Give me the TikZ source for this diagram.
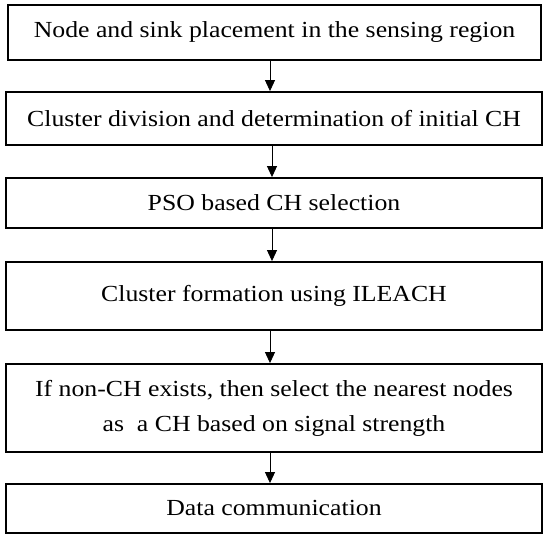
\documentclass[tikz,border=0pt]{standalone}
\usepackage{fontspec}
\setmainfont[FakeStretch=1.12]{Liberation Serif}
\usetikzlibrary{arrows.meta}
\begin{document}
\begin{tikzpicture}[x=1pt,y=1pt,
  stepbox/.style={draw=black, line width=1.8pt, inner sep=0pt, align=center,
    font=\fontsize{23}{35}\selectfont},
  flow/.style={-{Triangle[length=11pt,width=10pt]}, line width=0.9pt}]
\useasboundingbox (0,0) rectangle (550,540);
\node[stepbox, minimum width=533pt, minimum height=55pt] (b1) at (274.5,507.5) {Node and sink placement in the sensing region};
\node[stepbox, minimum width=536pt, minimum height=53pt] (b2) at (274,421.5) {Cluster division and determination of initial CH};
\node[stepbox, minimum width=536pt, minimum height=50pt] (b3) at (274,337) {PSO based CH selection};
\node[stepbox, minimum width=536pt, minimum height=68pt] (b4) at (274,244) {Cluster formation using ILEACH};
\node[stepbox, minimum width=536pt, minimum height=88pt] (b5) at (274,132) {If non-CH exists, then select the nearest nodes\\as\ \ a CH based on signal strength};
\node[stepbox, minimum width=536pt, minimum height=49pt] (b6) at (274,31.5) {Data communication};
\draw[flow] (b1.south -| 270,0) -- (b2.north -| 270,0);
\draw[flow] (b2.south -| 272,0) -- (b3.north -| 272,0);
\draw[flow] (b3.south -| 272,0) -- (b4.north -| 272,0);
\draw[flow] (b4.south -| 270,0) -- (b5.north -| 270,0);
\draw[flow] (b5.south -| 270,0) -- (b6.north -| 270,0);
\end{tikzpicture}
\end{document}
